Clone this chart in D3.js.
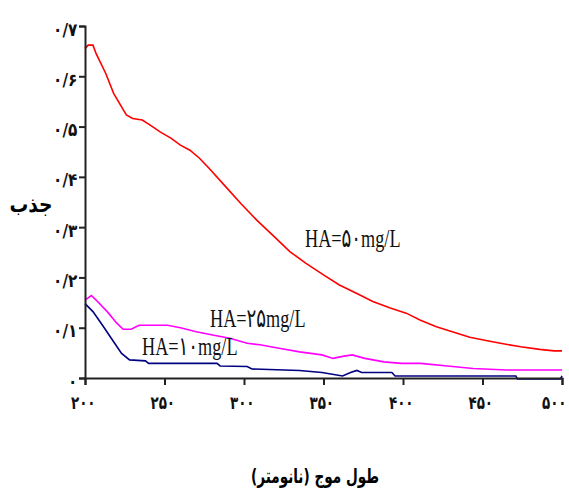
<!DOCTYPE html>
<html>
<head>
<meta charset="utf-8">
<script src="https://cdn.jsdelivr.net/npm/d3@7/dist/d3.min.js"></script>
<style>
  body { margin: 0; background: #fff; }
</style>
</head>
<body>
<svg id="chart" width="569" height="499"></svg>
<script>
// wavelength (nm) / absorbance
const ha50Wave = [200, 202, 205, 207, 213, 218, 226, 230, 236, 241, 247, 254, 260, 266, 272, 278, 288, 298, 308, 319, 329, 339, 350, 360, 371, 381, 392, 402, 411, 421, 432, 442, 453, 463, 474, 486, 495, 500];
const ha50Abs = [0.655, 0.662, 0.662, 0.645, 0.606, 0.566, 0.523, 0.516, 0.513, 0.503, 0.490, 0.477, 0.463, 0.453, 0.437, 0.417, 0.382, 0.347, 0.314, 0.281, 0.251, 0.228, 0.205, 0.185, 0.168, 0.152, 0.139, 0.129, 0.115, 0.102, 0.091, 0.081, 0.074, 0.068, 0.062, 0.057, 0.054, 0.054];

const ha25Wave = [200, 204, 207, 214, 220, 224, 229, 234, 252, 260, 270, 281, 291, 302, 310, 322, 335, 349, 356, 362, 368, 376, 388, 399, 411, 428, 444, 465, 500];
const ha25Abs = [0.155, 0.164, 0.155, 0.132, 0.109, 0.097, 0.097, 0.105, 0.105, 0.100, 0.092, 0.085, 0.079, 0.069, 0.066, 0.059, 0.052, 0.046, 0.039, 0.043, 0.046, 0.039, 0.032, 0.029, 0.029, 0.024, 0.019, 0.016, 0.016];

const ha10Wave = [200, 205, 211, 218, 223, 228, 238, 240, 283, 285, 302, 305, 335, 349, 362, 367, 371, 374, 393, 395, 471, 472, 499, 500];
const ha10Abs = [0.148, 0.132, 0.105, 0.072, 0.049, 0.036, 0.034, 0.029, 0.029, 0.024, 0.023, 0.018, 0.015, 0.011, 0.004, 0.011, 0.015, 0.011, 0.011, 0.004, 0.004, -0.002, -0.002, 0.004];

const xTicks = [200, 250, 300, 350, 400, 450, 500];
const xTickLabels = ["۲۰۰", "۲۵۰", "۳۰۰", "۳۵۰", "۴۰۰", "۴۵۰", "۵۰۰"];
const yTicks = [0, 0.1, 0.2, 0.3, 0.4, 0.5, 0.6, 0.7];
const yTickLabels = ["۰", "۰/۱", "۰/۲", "۰/۳", "۰/۴", "۰/۵", "۰/۶", "۰/۷"];

const seriesNames = ["HA=۵۰mg/L", "HA=۲۵mg/L", "HA=۱۰mg/L"];
const seriesColors = ["#ff0000", "#ff00ff", "#000080"];

const svg = d3.select("#chart");

const x = d3.scaleLinear().domain([200, 500]).range([85, 562]);
const y = d3.scaleLinear().domain([0, 0.7]).range([378, 26]);

const series = [
  { name: seriesNames[0], color: seriesColors[0], pts: d3.zip(ha50Wave, ha50Abs), lx: 305, ly: 247 },
  { name: seriesNames[1], color: seriesColors[1], pts: d3.zip(ha25Wave, ha25Abs), lx: 210, ly: 327 },
  { name: seriesNames[2], color: seriesColors[2], pts: d3.zip(ha10Wave, ha10Abs), lx: 142, ly: 355 }
];

const line = d3.line().x(d => x(d[0])).y(d => y(d[1]));

svg.selectAll("path.series")
  .data(series)
  .join("path")
  .attr("class", "series")
  .attr("fill", "none")
  .attr("stroke", d => d.color)
  .attr("stroke-width", 1.6)
  .attr("d", d => line(d.pts));

// axes on top so the low blue tail hides under the x axis
const xAxis = d3.axisBottom(x).tickValues(xTicks).tickSize(7).tickPadding(9)
  .tickFormat((d, i) => xTickLabels[i]);
const yAxis = d3.axisLeft(y).tickValues(yTicks).tickSize(6).tickPadding(3)
  .tickFormat((d, i) => yTickLabels[i]);

const gx = svg.append("g").attr("transform", "translate(0,378)").call(xAxis);
const gy = svg.append("g").attr("transform", "translate(85,0)").call(yAxis);

[gx, gy].forEach(g => {
  g.select(".domain").attr("stroke", "#222").attr("stroke-width", 2);
  g.selectAll(".tick line").attr("stroke", "#222").attr("stroke-width", 2);
  g.selectAll(".tick text")
    .attr("fill", "#111")
    .style("font-family", "DejaVu Sans")
    .style("font-weight", "bold")
    .style("font-size", "18px");
});
gx.selectAll(".tick text")
  .attr("dy", "0.85em")
  .attr("dx", (d, i) => i === xTicks.length - 1 ? -11 : -3)
  .attr("transform", "scale(0.75,1)");
gy.selectAll(".tick text").attr("dy", "0.5em").attr("transform", "scale(0.85,1)");

// series labels
svg.selectAll("text.lbl")
  .data(series)
  .join("text")
  .attr("class", "lbl")
  .attr("transform", d => `translate(${d.lx},${d.ly}) scale(0.7,1)`)
  .style("font-family", "Liberation Serif, DejaVu Sans")
  .style("font-size", "26px")
  .attr("fill", "#111")
  .text(d => d.name);

// axis titles
svg.append("text")
  .attr("transform", "translate(31,212) scale(0.85,1)")
  .attr("text-anchor", "middle")
  .attr("direction", "rtl")
  .style("font-family", "DejaVu Sans")
  .style("font-weight", "bold")
  .style("font-size", "22px")
  .text("جذب");

svg.append("text")
  .attr("transform", "translate(315,483) scale(0.68,1)")
  .attr("text-anchor", "middle")
  .attr("direction", "rtl")
  .style("font-family", "DejaVu Sans")
  .style("font-weight", "bold")
  .style("font-size", "20px")
  .text("طول موج (نانومتر)");
</script>
</body>
</html>
